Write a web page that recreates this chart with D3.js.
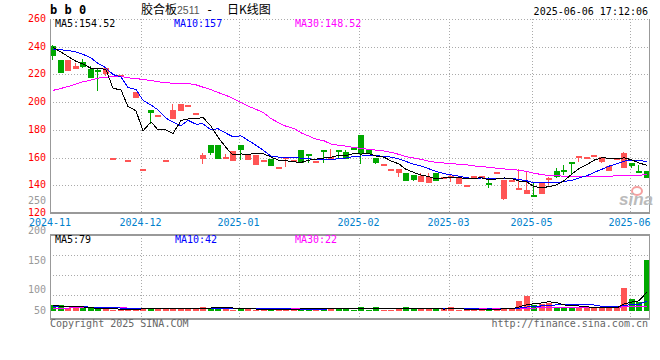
<!DOCTYPE html>
<html>
<head>
<meta charset="utf-8">
<script src="https://d3js.org/d3.v7.min.js"></script>
<style>
    body { margin: 0; background: #fff; }
    svg text { font: 10px "DejaVu Sans Mono", monospace; }
    .grid { stroke: #aaa; stroke-dasharray: 1,2; shape-rendering: crispEdges; }
    .frame { stroke: #999; shape-rendering: crispEdges; }
    .ma { fill: none; stroke-width: 1; shape-rendering: crispEdges; }
</style>
<title>胶合板2511 日K线图</title>
</head>
<body>
<svg width="660" height="360"></svg>
<script>
// daily candles, one entry per trading day
var opens = [240.5,230.7,222.8,224.5,229.2,224.2,223.5,220.4,159.5,219.7,
    158.0,203.0,151.6,194.1,191.0,158.0,187.9,193.6,198.2,192.0,
    159.0,168.8,169.1,159.3,158.0,168.8,158.8,155.0,158.5,158.8,
    153.3,159.2,158.5,165.7,162.9,157.5,165.8,159.5,165.8,164.1,
    166.7,176.0,166.0,159.5,155.7,151.6,148.4,149.2,147.2,142.9,
    141.5,148.9,146.3,146.8,141.0,140.0,146.8,146.8,141.5,149.4,
    130.3,144.0,136.8,133.7,133.2,134.0,145.4,150.4,150.8,157.1,
    159.9,160.2,161.8,156.3,150.6,159.5,153.0,156.4,150.2,150.4];
var highs = [241.0,230.7,230.7,228.5,231.4,226.4,224.2,225.2,159.5,219.7,
    158.0,207.3,151.6,194.5,191.0,158.0,198.4,198.4,198.2,192.0,
    163.2,168.8,169.1,162.8,165.0,168.8,162.1,162.1,158.5,158.8,
    153.3,160.6,158.5,165.7,162.9,157.5,165.8,166.0,165.8,165.5,
    166.7,176.0,166.0,159.5,155.7,151.6,151.6,149.2,147.2,148.7,
    148.7,148.9,146.3,147.5,146.3,140.0,146.8,146.8,145.8,149.4,
    143.9,144.0,151.6,150.0,141.5,142.0,146.3,152.3,154.4,157.1,
    161.1,160.2,161.8,160.2,154.0,159.5,164.2,156.4,154.7,150.4];
var lows = [230.7,221.4,222.8,224.5,225.0,218.0,208.0,219.0,159.5,219.7,
    158.0,203.0,151.6,184.5,191.0,158.0,187.9,193.6,198.2,192.0,
    155.2,161.6,158.8,159.3,158.0,158.0,158.8,155.0,158.5,153.8,
    153.3,153.3,158.5,156.4,156.2,157.5,156.4,159.5,159.5,159.3,
    165.5,155.2,162.4,155.7,155.7,151.6,146.3,143.1,143.1,142.9,
    141.5,143.2,146.3,142.7,141.0,140.0,146.8,146.8,138.4,149.4,
    129.6,144.0,136.8,133.7,132.0,134.0,140.3,145.1,147.5,147.5,
    156.6,160.2,161.8,156.3,150.6,159.5,153.0,152.3,149.2,145.1];
var closes = [233.5,221.4,230.7,226.4,225.6,218.0,222.3,224.7,159.5,219.7,
    158.0,207.3,151.6,192.2,191.0,158.0,194.1,198.4,198.2,192.0,
    161.6,163.3,158.8,160.5,165.0,165.3,162.1,162.1,158.5,153.8,
    153.3,160.6,158.5,156.4,161.5,157.5,164.8,160.5,164.8,159.3,
    165.5,162.4,162.4,155.7,155.7,151.6,151.6,143.1,143.9,147.0,
    146.0,143.2,146.3,146.8,146.3,140.0,146.8,146.8,139.8,149.4,
    143.9,144.0,138.4,136.3,132.0,142.0,145.6,146.3,150.4,156.8,
    161.1,160.2,161.8,160.2,154.0,159.5,163.5,154.2,149.5,145.1];

// price moving averages
var ma5 = [239.5,236.2,233.0,229.5,227.5,224.4,224.6,223.4,210.0,208.8,
    196.8,193.8,179.2,185.8,180.0,180.0,177.4,186.7,187.9,188.1,
    188.9,182.7,174.8,167.2,161.8,162.6,162.3,163.0,162.6,160.4,
    158.0,157.7,156.9,156.5,158.1,158.9,159.7,160.1,161.8,161.4,
    163.0,162.5,162.9,161.1,160.3,157.6,155.4,151.5,149.2,147.4,
    146.3,144.6,145.3,145.9,145.7,144.5,145.2,145.3,143.9,144.6,
    145.3,144.8,143.1,142.4,138.9,138.5,138.9,140.4,143.3,148.2,
    152.0,155.0,158.1,160.0,159.5,159.1,159.8,158.3,156.1,154.4];
var ma10 = [237.8,237.7,237.4,236.2,234.5,231.9,228.0,224.7,219.9,218.2,
    210.6,209.2,201.3,197.9,194.4,188.4,185.6,183.0,186.9,184.1,
    184.4,180.0,180.8,177.6,175.0,175.7,172.5,168.9,164.9,161.1,
    160.3,160.0,160.0,159.6,159.2,158.4,158.7,158.5,159.2,159.7,
    160.9,161.1,161.5,161.4,160.9,160.3,159.0,157.2,155.1,153.9,
    151.9,150.0,148.4,147.5,146.6,145.4,144.9,145.3,144.9,145.1,
    144.9,145.0,144.2,143.2,141.7,141.9,141.8,141.8,142.8,143.6,
    145.3,146.9,149.3,151.6,153.8,155.6,157.4,158.2,158.1,156.9];
var ma30 = [208.5,209.9,211.3,213.0,214.7,215.9,217.3,218.0,218.5,218.7,
    217.5,217.1,216.3,215.6,214.7,214.0,213.7,213.5,213.5,212.5,
    210.8,209.0,207.0,204.9,202.7,199.8,197.2,194.8,192.2,188.1,
    185.0,182.6,181.0,177.9,175.5,173.3,172.1,169.7,168.8,168.3,
    167.3,166.6,165.9,165.4,164.7,163.8,162.3,160.7,159.7,158.7,
    157.3,156.6,156.1,155.6,155.2,154.7,154.0,153.5,153.0,152.3,
    151.8,151.3,150.9,149.9,148.7,147.7,147.0,146.8,146.6,146.3,
    146.3,146.3,146.3,146.6,146.6,146.8,146.8,147.0,147.3,147.6];

// volume and its moving averages
var volumes = [25,25,11,11,11,11,8,8,6,6,
    9,11,9,11,11,9,11,11,11,11,
    16,12,16,11,6,11,8,5,5,5,
    8,12,8,8,8,8,12,12,12,14,
    5,16,5,16,5,5,12,16,7,12,
    7,7,7,16,5,5,5,7,12,8,
    12,8,41,62,25,29,34,18,18,18,
    15,15,11,11,15,12,96,49,37,209];
var vma5 = [22,20,18,17,16.6,13.8,10.4,9.8,8.8,7.8,
    7.4,8,8.2,9.2,10.2,10.2,10.2,10.6,10.6,10.6,
    12,12.2,13.2,13.2,12.2,11.2,10.4,8.2,7,6.8,
    6.2,7,7.6,8.2,8.8,8.8,8.8,9.6,10.4,11.6,
    11,11.8,10.4,11.2,9.4,9.4,8.6,10.8,9,10.4,
    10.8,9.8,8,9.8,8.4,8,7.6,7.6,6.8,7.4,
    8.8,9.4,16.2,26.2,29.6,33,38.2,33.6,24.8,23.4,
    20.6,16.8,15.4,14,13.4,12.8,29,36.6,41.8,78];
var vma10 = [20,20,19,18,17,16,15,14,13,12.2,
    10.6,9.2,9,9,9,8.8,9.1,9.4,9.9,10.4,
    11.1,11.2,11.9,11.9,11.4,11.6,11.3,10.7,10.1,9.5,
    8.7,8.7,7.9,7.6,7.8,7.5,7.9,8.6,9.3,10.2,
    9.9,10.3,10,10.8,10.5,10.2,10.2,10.6,10.1,9.9,
    10.1,9.2,9.4,9.4,9.4,9.4,8.7,7.8,8.3,7.9,
    8.4,8.5,11.9,16.5,18.5,20.9,23.8,24.9,25.5,26.5,
    26.8,27.5,24.5,19.4,18.4,16.7,22.9,26,27.9,40];
var vma30 = [10,11,12,14,15,16,16,16,16,15,
    12,11,11,11,11,11,11,11,10,10,
    10,10,10,10,10,10,10,10,10,10,
    9,9,9,9,9,9,9,9,9,9,
    9,9,9,9,9,9,9,9,9,9,
    9,9,9,9,9,9,9,9,9,9,
    9,9,10,11,12,13,14,14,15,15,
    15,15,15,15,15,15,17,17,18,20];

var priceTicks = [260, 240, 220, 200, 180, 160, 140, 120];
var volTicks = [250, 200, 150, 100, 50];
var monthLabels = ["2024-11", "2024-12", "2025-01", "2025-02", "2025-03", "2025-05", "2025-06"];
var monthStart = [0, 12, 25, 41, 53, 64, 77];

var UP = "#ff5555", DOWN = "#00a800";

var svg = d3.select("svg");
var left = 50, right = 650;
var mainTop = 19, mainBottom = 213;
var volTop = 234.5, volBottom = 318.5;

var x = d3.scaleBand().domain(d3.range(opens.length)).range([left, right])
    .paddingInner(0.2).paddingOuter(0);
var bw = Math.round(x.bandwidth());
var y = d3.scaleLinear().domain([120, 260]).range([mainBottom, mainTop]);
var yv = d3.scaleLinear().domain([0, 250]).range([311, 250]);
// the volume axis labels are spaced unevenly on the original
var yvLabel = d3.scaleLinear().domain([50, 100, 250]).range([314, 293.3, 204]);
var volGrid = d3.scaleLinear().domain([0, 4]).range([235.5, 315]);

function cx(i) { return Math.round(x(i)) + bw / 2; }
function gx(i) { return Math.round(x(i)) + 1.5; }

// ---------- title row ----------
svg.append("text").attr("x", 50).attr("y", 14)
    .style("font", "bold 12px 'DejaVu Sans Mono', monospace").text("b b 0");
var title = svg.append("text").attr("y", 14).style("font", "12px 'Noto Sans CJK SC', sans-serif");
title.append("tspan").attr("x", 141).text("胶合板");
title.append("tspan").attr("x", 177).attr("fill", "#555").style("font", "10.5px 'Liberation Sans', sans-serif").text("2511");
title.append("tspan").attr("x", 206).style("font", "12px 'DejaVu Sans Mono', monospace").text("-");
title.append("tspan").attr("x", 227).text("日K线图");
svg.append("text").attr("x", 648).attr("y", 15).attr("text-anchor", "end").text("2025-06-06 17:12:06");

// ---------- main panel grid ----------
var g = svg.append("g");
g.selectAll(".hgrid").data(priceTicks.slice(0, -1)).enter().append("line")
    .attr("class", "grid")
    .attr("x1", left).attr("x2", right)
    .attr("y1", function (d) { return Math.round(y(d)) + 0.5; })
    .attr("y2", function (d) { return Math.round(y(d)) + 0.5; });
g.selectAll(".vgrid").data(monthStart.slice(1)).enter().append("line")
    .attr("class", "grid")
    .attr("x1", gx).attr("x2", gx)
    .attr("y1", mainTop).attr("y2", mainBottom);

g.selectAll(".plabel").data(priceTicks).enter().append("text")
    .attr("x", 46).attr("y", function (d) { return y(d) + (d === 120 ? 2.5 : 3); })
    .attr("text-anchor", "end").attr("fill", "#f00")
    .text(function (d) { return d; });

// sina watermark
svg.append("ellipse").attr("cx", 637).attr("cy", 191).attr("rx", 5).attr("ry", 4)
    .attr("fill", "none").attr("stroke", "#f5a0a0").attr("stroke-width", 2);
svg.append("text").attr("x", 619).attr("y", 205)
    .style("font", "italic bold 17px 'Liberation Sans', sans-serif")
    .attr("fill", "#bbb").text("sina");

// ---------- candles ----------
var idx = d3.range(opens.length);
function colorOf(i) { return closes[i] >= opens[i] ? UP : DOWN; }

g.selectAll(".wick").data(idx).enter().append("line")
    .attr("x1", function (i) { return Math.round(x(i)) + 2.5; })
    .attr("x2", function (i) { return Math.round(x(i)) + 2.5; })
    .attr("y1", function (i) { return Math.round(y(highs[i])); })
    .attr("y2", function (i) { return Math.round(y(lows[i])); })
    .attr("stroke", colorOf)
    .style("shape-rendering", "crispEdges");

g.selectAll(".body").data(idx).enter().append("rect")
    .attr("x", function (i) { return Math.round(x(i)); })
    .attr("width", bw)
    .attr("y", function (i) { return Math.round(y(Math.max(opens[i], closes[i]))); })
    .attr("height", function (i) {
        return Math.max(2, Math.round(Math.abs(y(opens[i]) - y(closes[i]))));
    })
    .attr("fill", colorOf)
    .style("shape-rendering", "crispEdges");

function drawLine(parent, values, scale, color) {
    parent.append("path")
        .datum(values)
        .attr("class", "ma")
        .attr("stroke", color)
        .attr("d", d3.line()
            .x(function (d, i) { return cx(i); })
            .y(function (d) { return scale(d); }));
}
drawLine(g, ma30, y, "#ff00ff");
drawLine(g, ma10, y, "#0000ff");
drawLine(g, ma5, y, "#000");

// frame
g.append("line").attr("class", "grid").attr("x1", left).attr("x2", right).attr("y1", mainTop + 0.5).attr("y2", mainTop + 0.5);
g.append("line").attr("class", "frame").attr("x1", left + 0.5).attr("x2", left + 0.5).attr("y1", mainTop).attr("y2", mainBottom);
g.append("line").attr("class", "frame").attr("x1", right - 0.5).attr("x2", right - 0.5).attr("y1", mainTop).attr("y2", mainBottom);
g.append("line").attr("class", "frame").attr("stroke-width", 2).attr("x1", left).attr("x2", right).attr("y1", mainBottom).attr("y2", mainBottom);

svg.append("text").attr("x", 55).attr("y", 27).text("MA5:154.52");
svg.append("text").attr("x", 174).attr("y", 27).attr("fill", "#00f").text("MA10:157");
svg.append("text").attr("x", 295).attr("y", 27).attr("fill", "#f0f").text("MA30:148.52");

// month labels
svg.selectAll(".mlabel").data(monthStart).enter().append("text")
    .attr("x", function (d, i) { return i === 0 ? left : gx(d) - 1; })
    .attr("y", 225.5)
    .attr("text-anchor", "middle")
    .attr("fill", "#0080cc")
    .text(function (d, i) { return monthLabels[i]; });

// ---------- volume panel ----------
var v = svg.append("g");
v.selectAll(".vh").data([1, 2, 3]).enter().append("line")
    .attr("class", "grid")
    .attr("x1", left).attr("x2", right)
    .attr("y1", function (d) { return Math.round(volGrid(d)) + 0.5; })
    .attr("y2", function (d) { return Math.round(volGrid(d)) + 0.5; });
v.selectAll(".vv").data(monthStart.slice(1)).enter().append("line")
    .attr("class", "grid")
    .attr("x1", gx).attr("x2", gx)
    .attr("y1", volTop).attr("y2", volBottom);

svg.selectAll(".vlabel").data(volTicks).enter().append("text")
    .attr("x", 46).attr("y", function (d) { return yvLabel(d); })
    .attr("text-anchor", "end").attr("fill", "#999")
    .text(function (d) { return d; });

v.selectAll(".vbar").data(idx).enter().append("rect")
    .attr("x", function (i) { return Math.round(x(i)); })
    .attr("width", bw)
    .attr("y", function (i) { return Math.round(yv(volumes[i])); })
    .attr("height", function (i) { return Math.round(yv(0)) - Math.round(yv(volumes[i])); })
    .attr("fill", colorOf)
    .style("shape-rendering", "crispEdges");

drawLine(v, vma30, yv, "#ff00ff");
drawLine(v, vma10, yv, "#0000ff");
drawLine(v, vma5, yv, "#000");

v.append("line").attr("class", "frame").attr("stroke-width", 2).attr("x1", left).attr("x2", right).attr("y1", volTop).attr("y2", volTop);
v.append("line").attr("class", "frame").attr("x1", left + 0.5).attr("x2", left + 0.5).attr("y1", volTop).attr("y2", volBottom);
v.append("line").attr("class", "frame").attr("x1", right - 0.5).attr("x2", right - 0.5).attr("y1", volTop).attr("y2", volBottom);
v.append("line").attr("class", "frame").attr("stroke-width", 2).attr("x1", left).attr("x2", right).attr("y1", volBottom).attr("y2", volBottom);

svg.append("text").attr("x", 55).attr("y", 243).text("MA5:79");
svg.append("text").attr("x", 175).attr("y", 243).attr("fill", "#00f").text("MA10:42");
svg.append("text").attr("x", 295).attr("y", 243).attr("fill", "#f0f").text("MA30:22");

svg.append("text").attr("x", 50).attr("y", 327).attr("fill", "#666").text("Copyright 2025 SINA.COM");
svg.append("text").attr("x", 648).attr("y", 327).attr("text-anchor", "end").attr("fill", "#666").text("http://finance.sina.com.cn");
</script>
</body>
</html>
